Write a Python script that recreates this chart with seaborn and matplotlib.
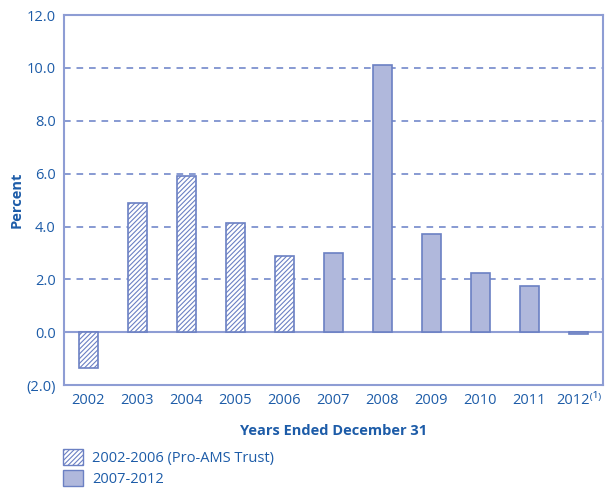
import numpy as np
import pandas as pd
import seaborn as sns
import matplotlib.pyplot as plt
from matplotlib.patches import Patch

years = ['2002', '2003', '2004', '2005', '2006', '2007', '2008', '2009', '2010', '2011', '2012⁽¹⁾']
returns = [-1.35, 4.9, 5.9, 4.15, 2.9, 3.0, 10.1, 3.7, 2.25, 1.75, -0.08]
period = ['2002-2006 (Pro-AMS Trust)'] * 5 + ['2007-2012'] * 6
yticks = [-2, 0, 2, 4, 6, 8, 10, 12]
yticklabels = ['(2.0)', '0.0', '2.0', '4.0', '6.0', '8.0', '10.0', '12.0']

txt = '#1d5ca8'
frame = '#8e9dd4'
fill = '#b0b8dc'
edge = '#6b80c3'

sns.set_style('white')
plt.rcParams['font.family'] = ['Open Sans', 'DejaVu Sans']
plt.rcParams['hatch.linewidth'] = 0.8

df = pd.DataFrame({'year': years, 'ret': returns, 'period': period})

fig = plt.figure(figsize=(6.07, 4.88), dpi=100)
ax = fig.add_axes([0.1054, 0.211, 0.888, 0.758])

sns.barplot(data=df, x='year', y='ret', hue='period', dodge=False, width=0.4,
            palette=[fill, fill], saturation=1, edgecolor=edge, linewidth=1.2,
            legend=False, ax=ax)

for bar, p in zip(ax.patches, period):
    if p.startswith('2002'):
        bar.set_facecolor('white')
        bar.set_hatch('///////')

ax.set_ylim(-2, 12)
ax.set_yticks(yticks)
ax.set_yticklabels(yticklabels)
for y in [2, 4, 6, 8, 10]:
    ax.axhline(y, color='#7389cb', lw=1.2, ls=(0, (4, 3.5)), zorder=0)
ax.axhline(0, color=frame, lw=1.5, zorder=0.5)

for s in ax.spines.values():
    s.set_color(frame)
    s.set_linewidth(1.5)

ax.tick_params(axis='both', colors=txt, labelsize=10.5, length=0, pad=6)
ax.set_xlabel('Years Ended December 31', color=txt, fontsize=10.5, fontweight='bold', labelpad=11)
ax.set_ylabel('Percent', color=txt, fontsize=10.5, fontweight='bold', labelpad=2)

handles = [Patch(facecolor='white', edgecolor=edge, hatch='///////', label='2002-2006 (Pro-AMS Trust)'),
           Patch(facecolor=fill, edgecolor=edge, label='2007-2012')]
leg = fig.legend(handles=handles, loc='lower left', bbox_to_anchor=(0.082, -0.025), frameon=False,
                 fontsize=10.5, labelcolor=txt, handlelength=1.4, handleheight=1.3,
                 handletextpad=0.6, labelspacing=0.3)

fig.savefig('out.png', dpi=100)
